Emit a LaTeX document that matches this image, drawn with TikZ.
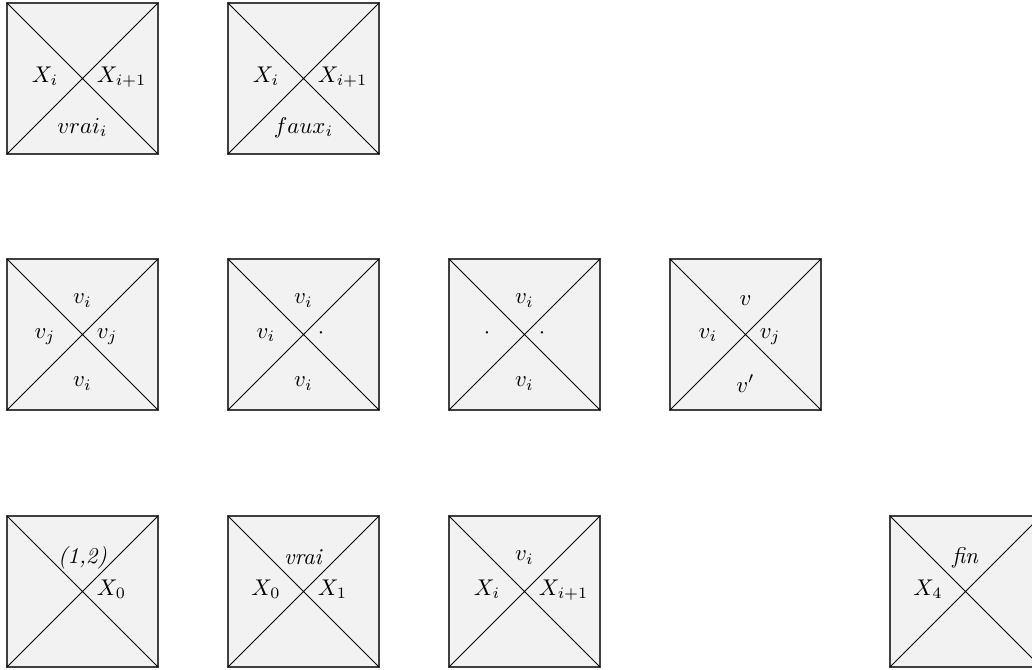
\documentclass[tikz,border=0pt]{standalone}
\usetikzlibrary{calc}
\tikzset{
  tilebox/.style={draw=black!75, line width=0.75pt, fill=black!5, minimum size=66.44pt, inner sep=0pt, outer sep=0pt},
  diag/.style={draw=black, line width=0.45pt},
  toplab/.style={inner sep=0pt},
  leftlab/.style={inner sep=0pt, anchor=mid},
  rightlab/.style={inner sep=0pt, anchor=mid west},
  botlab/.style={inner sep=0pt}
}
\newcommand\mytile[3]{%
  \node[tilebox, anchor=north west] (#1) at (#2,#3) {};
  \draw[diag] (#1.north west) -- (#1.south east) (#1.south west) -- (#1.north east);
}
\newcommand\tlab[2]{\node[toplab] (#1-t) at ($(#1.north west)+(75.5,41.5)$) {#2};}
\newcommand\llab[2]{\node[leftlab] (#1-l) at ($(#1.north west)+(38,74.5)$) {#2};}
\newcommand\rlab[2]{\node[rightlab] (#1-r) at ($(#1.north west)+(89.5,74.5)$) {#2};}
\newcommand\blab[2]{\node[botlab] (#1-b) at ($(#1.north west)+(75.5,124.5)$) {#2};}
\begin{document}
\begin{tikzpicture}[x=0.44pt, y=-0.44pt]
\useasboundingbox (0,0) rectangle (1032,670);
% row 1
\mytile{a}{7}{3}
\llab{a}{$X_i$} \rlab{a}{$X_{i+1}$} \blab{a}{$vrai_i$}
\mytile{b}{228}{3}
\llab{b}{$X_i$} \rlab{b}{$X_{i+1}$} \blab{b}{$faux_i$}
% row 2
\mytile{c}{7}{259}
\tlab{c}{$v_i$} \llab{c}{$v_j$} \rlab{c}{$v_j$} \blab{c}{$v_i$}
\mytile{d}{228}{259}
\tlab{d}{$v_i$} \llab{d}{$v_i$} \rlab{d}{$\cdot$} \blab{d}{$v_i$}
\mytile{e}{449}{259}
\tlab{e}{$v_i$} \llab{e}{$\cdot$} \rlab{e}{$\cdot$} \blab{e}{$v_i$}
\mytile{f}{670}{259}
\tlab{f}{$v$} \llab{f}{$v_i$} \rlab{f}{$v_j$} \blab{f}{$v'$}
% row 3
\mytile{g}{7}{516}
\tlab{g}{\textit{(1,2)}} \rlab{g}{$X_0$}
\mytile{h}{228}{516}
\tlab{h}{\textit{vrai}} \llab{h}{$X_0$} \rlab{h}{$X_1$}
\mytile{i}{449}{516}
\tlab{i}{$v_i$} \llab{i}{$X_i$} \rlab{i}{$X_{i+1}$}
\mytile{j}{890}{516}
\tlab{j}{\textit{fin}} \llab{j}{$X_4$}
\end{tikzpicture}
\end{document}
